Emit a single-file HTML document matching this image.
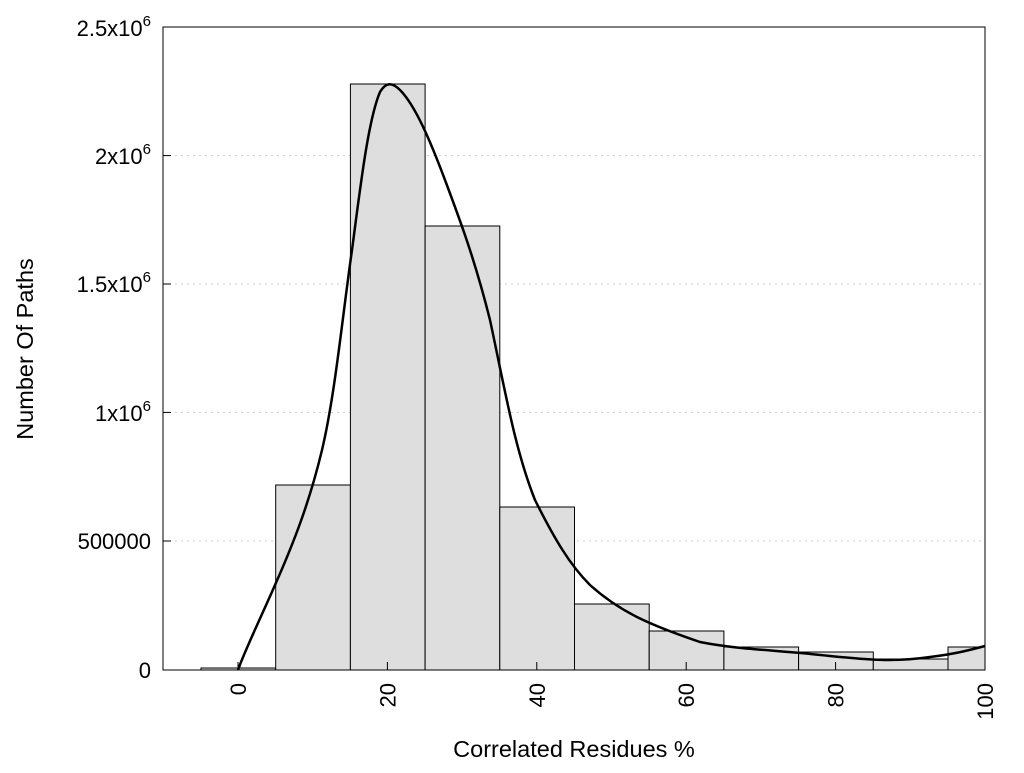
<!DOCTYPE html>
<html><head><meta charset="utf-8"><style>
body{margin:0;background:#fff}
svg{font-family:"Liberation Sans",Arial,sans-serif}
</style></head><body>
<svg width="1024" height="768" xmlns="http://www.w3.org/2000/svg">
<rect width="1024" height="768" fill="#fff"/>
<g stroke="#ccc" stroke-dasharray="2,4" stroke-width="1">
<line x1="163" y1="155.6" x2="985" y2="155.6"/>
<line x1="163" y1="284" x2="985" y2="284"/>
<line x1="163" y1="412.4" x2="985" y2="412.4"/>
<line x1="163" y1="541" x2="985" y2="541"/>
</g>
<g fill="#dedede" stroke="#000" stroke-width="1">
<rect x="201" y="668" width="74.7" height="2"/>
<rect x="275.7" y="485" width="74.7" height="185"/>
<rect x="350.4" y="84" width="74.7" height="586"/>
<rect x="425.1" y="226" width="74.7" height="444"/>
<rect x="499.8" y="507" width="74.7" height="163"/>
<rect x="574.5" y="604" width="74.7" height="66"/>
<rect x="649.2" y="631" width="74.7" height="39"/>
<rect x="723.9" y="647" width="74.7" height="23"/>
<rect x="798.6" y="652" width="74.7" height="18"/>
<rect x="873.3" y="659" width="74.7" height="11"/>
<rect x="948" y="647" width="37" height="23"/>
</g>
<path d="M238,670 C245,650 262,615 275,585 C295,540 310,500 322,450 C335,395 342,320 352,250 C360,190 368,120 380,92 C386,82 392,82 400,90 C415,105 430,140 445,180 C460,220 475,260 490,320 C505,390 515,450 535,500 C555,540 570,565 590,585 C620,612 650,625 700,642 C740,650 780,650 830,656 C870,660 895,662 930,657 C955,654 970,650 985,646" fill="none" stroke="#000" stroke-width="2.5"/>
<rect x="163" y="27" width="822" height="643" fill="none" stroke="#000" stroke-width="1"/>
<g stroke="#000" stroke-width="1">
<line x1="238" y1="670" x2="238" y2="662"/><line x1="387.4" y1="670" x2="387.4" y2="662"/><line x1="536.8" y1="670" x2="536.8" y2="662"/><line x1="686.2" y1="670" x2="686.2" y2="662"/><line x1="835.6" y1="670" x2="835.6" y2="662"/>
<line x1="163" y1="155.6" x2="171" y2="155.6"/><line x1="163" y1="284" x2="171" y2="284"/><line x1="163" y1="412.4" x2="171" y2="412.4"/><line x1="163" y1="541" x2="171" y2="541"/>
</g>
<g font-size="22" text-anchor="end" fill="#000">
<text x="151" y="678">0</text>
<text x="151" y="549">500000</text>
<text x="151" y="421">1x10<tspan dy="-10" font-size="15">6</tspan></text>
<text x="151" y="292">1.5x10<tspan dy="-10" font-size="15">6</tspan></text>
<text x="151" y="164">2x10<tspan dy="-10" font-size="15">6</tspan></text>
<text x="151" y="36">2.5x10<tspan dy="-10" font-size="15">6</tspan></text>
</g>
<g font-size="22" text-anchor="end" fill="#000">
<text transform="translate(246,683) rotate(-90)">0</text>
<text transform="translate(395.4,683) rotate(-90)">20</text>
<text transform="translate(544.8,683) rotate(-90)">40</text>
<text transform="translate(694.2,683) rotate(-90)">60</text>
<text transform="translate(843.6,683) rotate(-90)">80</text>
<text transform="translate(993,683) rotate(-90)">100</text>
</g>
<text x="574" y="757" font-size="23.5" text-anchor="middle">Correlated Residues %</text>
<text transform="translate(33,349) rotate(-90)" font-size="23.5" text-anchor="middle">Number Of Paths</text>
</svg>
</body></html>
